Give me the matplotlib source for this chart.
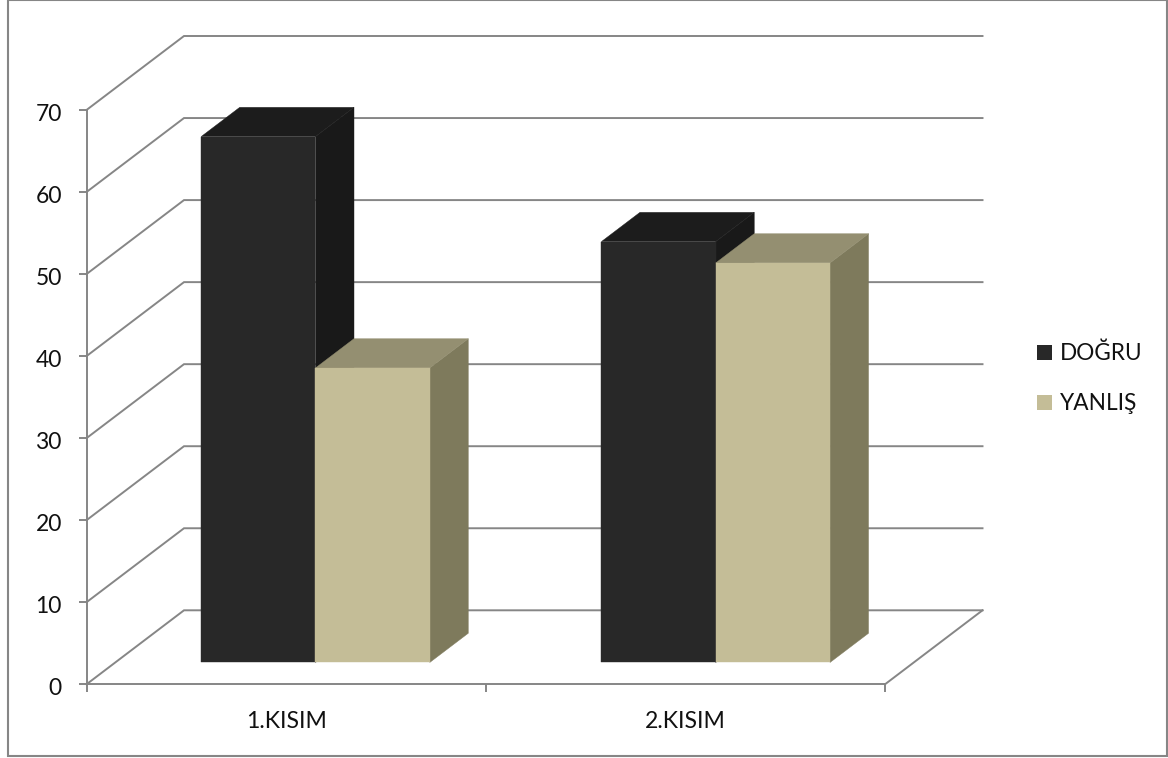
import matplotlib
matplotlib.use("Agg")
import matplotlib.pyplot as plt
from matplotlib.patches import Polygon, Rectangle, Patch
from matplotlib.ticker import NullLocator
from matplotlib.transforms import ScaledTranslation

plt.rcParams['font.family'] = ['Lato', 'DejaVu Sans']

categories = ["1.KISIM", "2.KISIM"]
dogru = [64.1, 51.3]
yanlis = [35.9, 48.7]
series_names = ["DOĞRU", "YANLIŞ"]
y_ticks = [0, 10, 20, 30, 40, 50, 60, 70]

W, H = 1168, 758
GRID = "#868686"
TEXT = "#111111"
LINE = 1.4

fig = plt.figure(figsize=(W / 100, H / 100), dpi=100, facecolor="white")
fig.add_artist(Rectangle((8 / W, 1 - 755.5 / H), 1159 / W, 755.5 / H, transform=fig.transFigure,
                         fill=False, edgecolor=GRID, linewidth=1.5))

# Axes rectangle is the front plane of the oblique 3D box.
x0, x1, y0, y1 = 86.5, 885.0, 684.3, 110.0
ax = fig.add_axes([x0 / W, 1 - y0 / H, (x1 - x0) / W, (y0 - y1) / H])
ax.set_xlim(0, 2)
ax.set_ylim(0, 70)
ax.patch.set_visible(False)
for side in ("top", "right", "bottom"):
    ax.spines[side].set_visible(False)
ax.spines["left"].set_color(GRID)
ax.spines["left"].set_linewidth(LINE)

# Full box depth expressed in data units.
DEPTH_X = 97.5 / ((x1 - x0) / 2)
DEPTH_Y = 74.0 / ((y0 - y1) / 70)


def project(x, y, d):
    return x + d * DEPTH_X, y + d * DEPTH_Y


# Side wall, back wall and floor lines
for v in y_ticks:
    a = project(0, v, 0)
    b = project(0, v, 1)
    c = project(2, v, 1)
    ax.plot([a[0], b[0], c[0]], [a[1], b[1], c[1]], color=GRID, lw=LINE, clip_on=False,
            solid_joinstyle="miter", zorder=1)
floor_a, floor_b = project(2, 0, 0), project(2, 0, 1)
ax.plot([floor_a[0], floor_b[0]], [floor_a[1], floor_b[1]], color=GRID, lw=LINE, clip_on=False, zorder=1)
ax.plot([0, 2], [0, 0], color=GRID, lw=LINE, clip_on=False, zorder=1)

# Category ticks at the cell boundaries, labels centred in each cell
ax.set_xticks([0, 1, 2])
ax.set_xticklabels([])
ax.xaxis.set_minor_locator(NullLocator())
ax.tick_params(axis="x", length=6, width=LINE, color=GRID)
ax.set_yticks(y_ticks)
ax.tick_params(axis="y", length=6, width=LINE, color=GRID, labelsize=16.5,
               labelcolor=TEXT, pad=11)
# Value labels sit slightly below their ticks
nudge = ScaledTranslation(-1 / 100, -2.5 / 100, fig.dpi_scale_trans)
for label in ax.get_yticklabels():
    label.set_transform(label.get_transform() + nudge)
for i, name in enumerate(categories):
    ax.annotate(name, (i + 0.5, 0), xytext=(0, -37 / 100 * 72), textcoords="offset points",
                ha="center", va="center", fontsize=16.6, color=TEXT, annotation_clip=False)

BAR_W = 0.2863
D_FRONT, D_BACK = 0.295, 0.69
group_centres = [0.5015, 1.504]
styles = [("#282828", "#1c1c1c", "#191919"), ("#c4bd97", "#948f71", "#7e7a5c")]


def draw_bar(left, value, colours, z):
    front, top, side = colours
    right = left + BAR_W
    def face(pts, colour, zorder):
        ax.add_patch(Polygon([project(*p) for p in pts], facecolor=colour, edgecolor=colour,
                             linewidth=0.3, clip_on=False, zorder=zorder))
    face([(right, 0, D_FRONT), (right, 0, D_BACK), (right, value, D_BACK), (right, value, D_FRONT)],
         side, z)
    face([(left, value, D_FRONT), (right, value, D_FRONT), (right, value, D_BACK), (left, value, D_BACK)],
         top, z + 0.1)
    face([(left, 0, D_FRONT), (right, 0, D_FRONT), (right, value, D_FRONT), (left, value, D_FRONT)],
         front, z + 0.2)


for i in range(len(categories)):
    draw_bar(group_centres[i] - BAR_W, dogru[i], styles[0], 3)
    draw_bar(group_centres[i], yanlis[i], styles[1], 4)

handles = [Patch(facecolor=styles[0][0], edgecolor="none"),
           Patch(facecolor=styles[1][0], edgecolor="none")]
fig.legend(handles, series_names, loc="center left", bbox_to_anchor=(1037 / W, 1 - 378.5 / H),
           frameon=False, fontsize=16.3, labelcolor=TEXT, borderpad=0, borderaxespad=0,
           handlelength=0.66, handleheight=0.66, handletextpad=0.35, labelspacing=1.27)

fig.savefig("out.png", dpi=100, facecolor="white")
